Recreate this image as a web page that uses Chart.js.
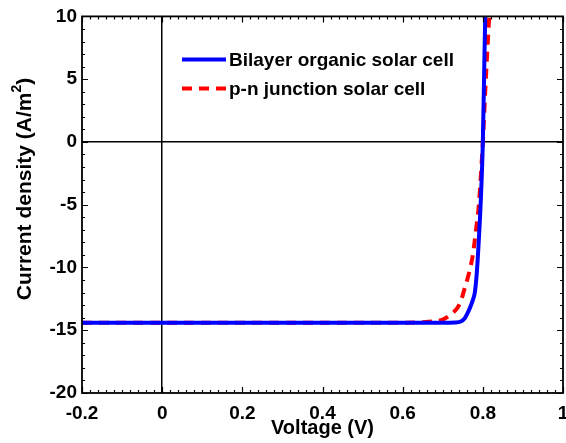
<!DOCTYPE html>
<html>
<head>
<meta charset="utf-8">
<script src="https://cdn.jsdelivr.net/npm/chart.js@4"></script>
<style>
  html, body { margin: 0; padding: 0; background: #fff; }
  canvas { display: block; }
</style>
</head>
<body>
<canvas id="ivChart" width="566" height="443"></canvas>
<script>
// values
const xTicks = [-0.2, 0, 0.2, 0.4, 0.6, 0.8, 1];
const yTicks = [-20, -15, -10, -5, 0, 5, 10];

const bilayerV = [-0.2, 0.2, 0.6, 0.70, 0.73, 0.745, 0.755, 0.7625, 0.77, 0.775, 0.78, 0.785, 0.79, 0.795, 0.80, 0.803, 0.806, 0.81];
const bilayerJ = [-14.4, -14.4, -14.4, -14.4, -14.38, -14.3, -14.05, -13.6, -13.05, -12.6, -12.0, -10.4, -7.8, -4.6, 0, 5, 10, 14];

const pnV = [-0.2, 0.2, 0.6, 0.65, 0.68, 0.70, 0.72, 0.737, 0.745, 0.7525, 0.765, 0.775, 0.783, 0.79, 0.80, 0.8075, 0.816, 0.82];
const pnJ = [-14.4, -14.4, -14.4, -14.36, -14.28, -14.15, -13.75, -13.2, -12.7, -11.9, -10.5, -9.0, -7.0, -5.0, 0, 5, 10, 12];

const labels = ["Bilayer organic solar cell", "p-n junction solar cell"];

function toPoints(xs, ys) {
  return xs.map((x, i) => ({ x: x, y: ys[i] }));
}

const FONT = "'Liberation Sans', Arial, sans-serif";

// box round the plot with inward ticks, legend and y title
const frameTicks = {
  id: "frameTicks",
  afterDatasetsDraw(chart) {
    const ctx = chart.ctx;
    const a = chart.chartArea;
    const xs = chart.scales.x;
    const ys = chart.scales.y;
    ctx.save();
    ctx.strokeStyle = "#000";
    ctx.lineWidth = 1.2;
    ctx.beginPath();
    for (let i = 0; i <= 60; i++) {
      const v = -0.2 + i * 0.02;
      const px = Math.round(xs.getPixelForValue(v)) + 0.5;
      const len = i % 10 === 0 ? 6 : 3;
      ctx.moveTo(px, a.bottom); ctx.lineTo(px, a.bottom - len);
      ctx.moveTo(px, a.top); ctx.lineTo(px, a.top + len);
    }
    for (let v = -20; v <= 10; v++) {
      const py = Math.round(ys.getPixelForValue(v)) + 0.5;
      const len = v % 5 === 0 ? 6 : 3;
      ctx.moveTo(a.left, py); ctx.lineTo(a.left + len, py);
      ctx.moveTo(a.right, py); ctx.lineTo(a.right - len, py);
    }
    ctx.stroke();
    ctx.lineWidth = 1.8;
    ctx.strokeRect(a.left, a.top, a.right - a.left, a.bottom - a.top);

    // legend inside the plot
    ctx.font = "bold 19px " + FONT;
    ctx.textBaseline = "middle";
    ctx.fillStyle = "#000";
    chart.data.datasets.forEach((ds, i) => {
      const y = a.top + 43 + i * 29;
      const x0 = a.left + 100;
      ctx.beginPath();
      ctx.strokeStyle = ds.borderColor;
      ctx.lineWidth = ds.borderWidth;
      ctx.setLineDash(ds.borderDash || []);
      ctx.moveTo(x0, y);
      ctx.lineTo(x0 + 44, y);
      ctx.stroke();
      ctx.setLineDash([]);
      ctx.fillText(ds.label, x0 + 47, y + 1);
    });

    // y title with a raised 2
    ctx.translate(25, 189);
    ctx.rotate(-Math.PI / 2);
    const main = "Current density (A/m";
    const big = "bold 21px " + FONT;
    const small = "bold 14px " + FONT;
    ctx.font = big;
    const w1 = ctx.measureText(main).width;
    const w3 = ctx.measureText(")").width;
    ctx.font = small;
    const w2 = ctx.measureText("2").width;
    let x = -(w1 + w2 + w3) / 2;
    ctx.textAlign = "left";
    ctx.textBaseline = "middle";
    ctx.font = big;
    ctx.fillText(main, x, 0);
    x += w1;
    ctx.font = small;
    ctx.fillText("2", x, -8);
    x += w2;
    ctx.font = big;
    ctx.fillText(")", x, 0);
    ctx.restore();
  }
};

const zeroLine = (c) => (c.tick && Math.abs(c.tick.value) < 1e-9 ? "#000" : "rgba(0,0,0,0)");

new Chart(document.getElementById("ivChart"), {
  type: "line",
  data: {
    datasets: [
      {
        label: labels[0],
        data: toPoints(bilayerV, bilayerJ),
        borderColor: "#0000ff",
        borderWidth: 4,
        pointRadius: 0,
        cubicInterpolationMode: "monotone",
        fill: false
      },
      {
        label: labels[1],
        data: toPoints(pnV, pnJ),
        borderColor: "#ff0000",
        borderWidth: 4,
        borderDash: [10, 7],
        pointRadius: 0,
        cubicInterpolationMode: "monotone",
        fill: false
      }
    ]
  },
  options: {
    responsive: false,
    animation: false,
    layout: { padding: { top: 15, right: 3, left: 0, bottom: 0 } },
    plugins: { legend: { display: false }, tooltip: { enabled: false } },
    scales: {
      x: {
        type: "linear",
        min: -0.2,
        max: 1,
        afterBuildTicks: (s) => { s.ticks = xTicks.map((v) => ({ value: v })); },
        afterFit: (s) => { s.height = 50; s.paddingRight = 0; s.paddingLeft = 0; },
        grid: { color: zeroLine, lineWidth: 1.5, drawTicks: false },
        border: { display: false },
        ticks: {
          color: "#000",
          padding: 9,
          maxRotation: 0,
          font: { family: FONT, size: 19, weight: "bold" },
          callback: (v) => String(+v.toFixed(1))
        },
        title: {
          display: true,
          text: "Voltage (V)",
          color: "#000",
          padding: { top: 0, bottom: 3 },
          font: { family: FONT, size: 20, weight: "bold" }
        }
      },
      y: {
        type: "linear",
        min: -20,
        max: 10,
        afterBuildTicks: (s) => { s.ticks = yTicks.map((v) => ({ value: v })); },
        afterFit: (s) => { s.width = 82; },
        grid: { color: zeroLine, lineWidth: 1.5, drawTicks: false },
        border: { display: false },
        ticks: {
          color: "#000",
          padding: 5,
          font: { family: FONT, size: 19, weight: "bold" }
        }
      }
    }
  },
  plugins: [frameTicks]
});
</script>
</body>
</html>
